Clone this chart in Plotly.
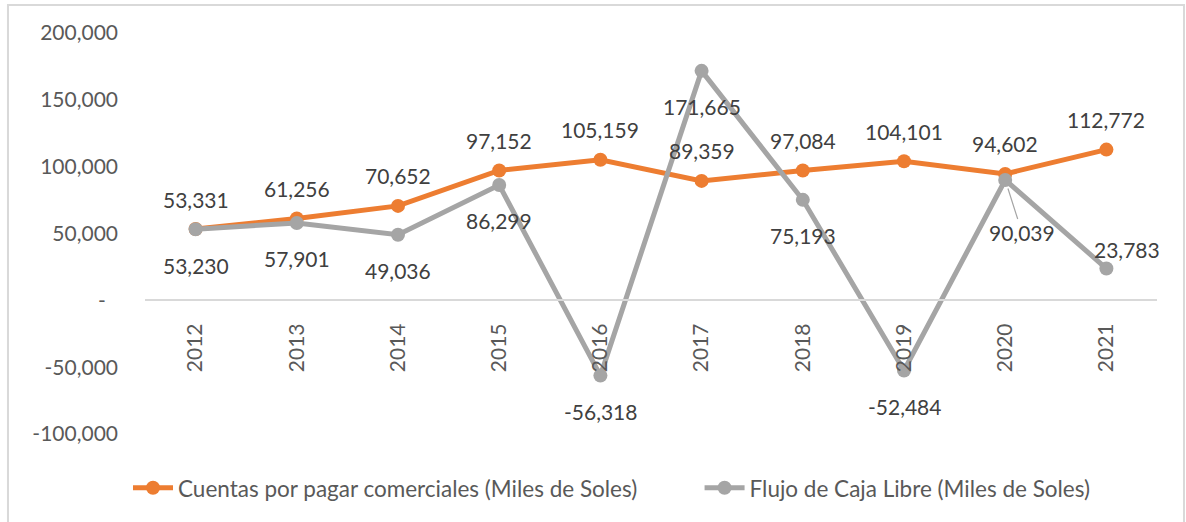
import plotly.graph_objects as go

# datos
anios = ["2012", "2013", "2014", "2015", "2016", "2017", "2018", "2019", "2020", "2021"]
cuentas = [53331, 61256, 70652, 97152, 105159, 89359, 97084, 104101, 94602, 112772]
flujo = [53230, 57901, 49036, 86299, -56318, 171665, 75193, -52484, 90039, 23783]

y_vals = [-100000, -50000, 0, 50000, 100000, 150000, 200000]
y_text = ["-100,000", "-50,000", "-\u2007", "50,000", "100,000", "150,000", "200,000"]

NARANJA = "#ED7D31"
GRIS = "#A5A5A5"
FUENTE = "Lato"

fig = go.Figure()
fig.add_trace(go.Scatter(x=anios, y=cuentas, mode="lines+markers",
                         name="Cuentas por pagar comerciales (Miles de Soles)", legend="legend",
                         line=dict(color=NARANJA, width=5), marker=dict(size=14, color=NARANJA)))
fig.add_trace(go.Scatter(x=anios, y=flujo, mode="lines+markers",
                         name="Flujo de Caja Libre (Miles de Soles)", legend="legend2",
                         line=dict(color=GRIS, width=5), marker=dict(size=14, color=GRIS)))

# etiquetas de datos (x por índice de categoría)
for i, v in enumerate(cuentas):
    fig.add_annotation(x=i, y=v, text=f"{v:,}", showarrow=False, yshift=30,
                       xanchor="center", yanchor="middle")

# desplazamientos (px) de las etiquetas grises: (xshift, yshift)
desp_gris = {"2021": (21, 19)}
for i, (a, v) in enumerate(zip(anios, flujo)):
    if a == "2020":
        fig.add_annotation(x=i, y=v, text=f"{v:,}", showarrow=True, ax=17, ay=53,
                           arrowhead=0, arrowwidth=1.2, arrowcolor=GRIS, standoff=9,
                           xanchor="center", yanchor="middle")
        continue
    dx, dy = desp_gris.get(a, (0, -36))
    fig.add_annotation(x=i, y=v, text=f"{v:,}", showarrow=False, xshift=dx, yshift=dy,
                       xanchor="center", yanchor="middle")

# borde del área del gráfico
fig.add_shape(type="rect", xref="paper", yref="paper", x0=-0.1354, x1=1.0267, y0=-0.24, y1=1.0698,
              line=dict(color="#D9D9D9", width=2), fillcolor="rgba(0,0,0,0)", layer="below")

ley = dict(orientation="h", y=-0.135, xanchor="left", yanchor="middle",
           font=dict(size=22.5, color="#595959"), itemwidth=40)

fig.update_layout(
    width=1186, height=522,
    margin=dict(l=145, r=29, t=33, b=88),
    paper_bgcolor="white", plot_bgcolor="white",
    font=dict(family=FUENTE, size=21, color="#404040"),
    showlegend=True,
    legend=dict(ley, x=-0.0168),
    legend2=dict(ley, x=0.548),
    xaxis=dict(type="category", range=[-0.5, 9.5], anchor="free", position=1/3,
               showline=True, linecolor="#D9D9D9", linewidth=1.5, showgrid=False,
               tickangle=-90, tickfont=dict(size=21, color="#595959"),
               ticks="", ticklabelstandoff=14, zeroline=False),
    yaxis=dict(range=[-100000, 200000], tickvals=y_vals, ticktext=y_text, showgrid=False,
               zeroline=False, showline=False, ticks="", ticklabelstandoff=26,
               tickfont=dict(size=21, color="#595959")),
)

fig.write_html("out.html", config={"displayModeBar": False},
               post_script="document.body.style.margin='0';")
